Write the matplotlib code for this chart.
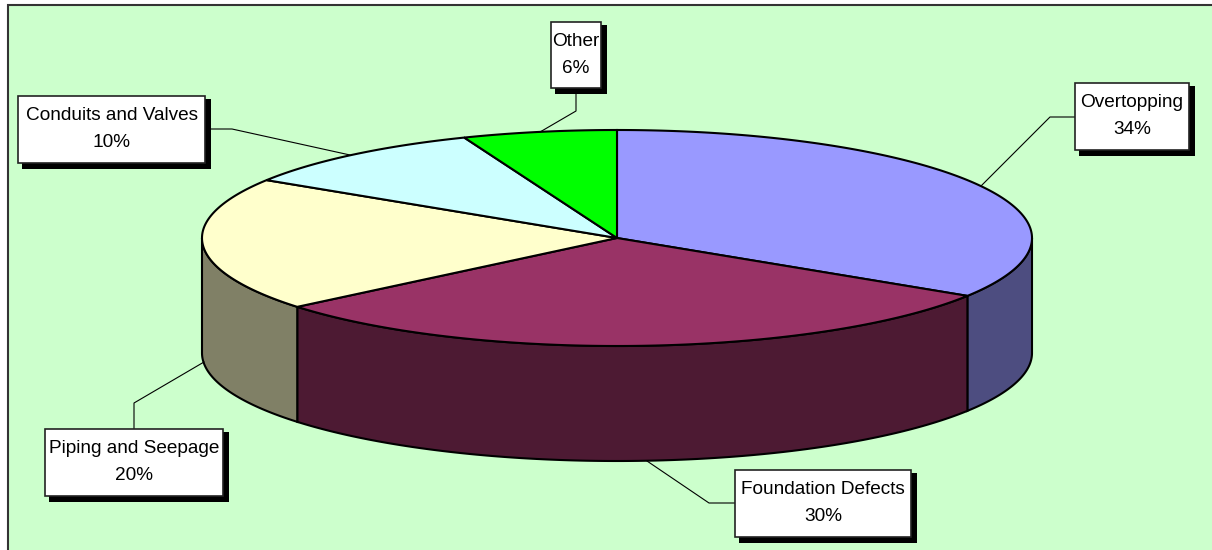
import numpy as np
import matplotlib
matplotlib.use("Agg")
import matplotlib.pyplot as plt
from matplotlib.patches import Polygon, Rectangle

plt.rcParams['font.family'] = ['Liberation Sans', 'DejaVu Sans']

categories = ["Overtopping", "Foundation Defects", "Piping and Seepage", "Conduits and Valves", "Other"]
values = [34, 30, 20, 10, 6]
top_colors = ["#9999FF", "#993366", "#FFFFCC", "#CCFFFF", "#00FF00"]
side_colors = ["#4D4D80", "#4D1A33", "#808066", "#668080", "#008000"]

# label boxes in pixels: left, top, right, bottom
boxes = [(1075, 83, 1189, 150), (735, 470, 911, 537), (45, 429, 223, 496), (18, 96, 205, 163), (551, 22, 601, 88)]
leaders = [
    [(981, 186), (1050, 117), (1075, 117)],
    [(647, 461), (709, 503), (735, 503)],
    [(204, 362), (134, 403), (134, 429)],
    [(350, 155), (232, 129), (205, 129)],
    [(540, 132), (576, 111), (576, 88)],
]

cx, cy = 617, 238
rx, ry = 415, 108
depth = 115

fig = plt.figure(figsize=(12.12, 5.5), dpi=100)
ax = fig.add_axes([0, 0, 1, 1])
ax.set_xlim(0, 1212)
ax.set_ylim(550, 0)
ax.axis("off")

ax.add_patch(Rectangle((7.5, 4.5), 1300, 700, fc="#CCFFCC", ec="#333333", lw=1.5))


def rim(a, b):
    t = np.radians(np.linspace(a, b, max(int(abs(b - a) * 2), 2)))
    return cx + rx * np.sin(t), cy - ry * np.cos(t)


edges = np.cumsum([0] + values) * 3.6

# side walls, only the front half of the rim shows
for i in range(len(values)):
    a, b = max(edges[i], 90), min(edges[i + 1], 270)
    if a >= b:
        continue
    x, y = rim(a, b)
    pts = list(zip(x, y)) + list(zip(x[::-1], y[::-1] + depth))
    ax.add_patch(Polygon(pts, closed=True, fc=side_colors[i], ec="black", lw=1.5, zorder=2))

# top faces
for i in range(len(values)):
    x, y = rim(edges[i], edges[i + 1])
    pts = [(cx, cy)] + list(zip(x, y))
    ax.add_patch(Polygon(pts, closed=True, fc=top_colors[i], ec="black", lw=1.5, zorder=3))

for pts in leaders:
    xs, ys = zip(*pts)
    ax.plot(xs, ys, color="black", lw=0.8, zorder=4)

for name, val, (l, t, r, b) in zip(categories, values, boxes):
    ax.add_patch(Rectangle((l + 4, t + 3), r - l + 2, b - t + 3, fc="black", ec="none", zorder=5))
    ax.add_patch(Rectangle((l, t), r - l, b - t, fc="white", ec="#222222", lw=1.2, zorder=6))
    mid = (l + r) / 2
    ax.text(mid, t + 24, name, ha="center", va="baseline", fontsize=13.7, color="black", zorder=7)
    ax.text(mid, t + 51, f"{val}%", ha="center", va="baseline", fontsize=13.7, color="black", zorder=7)

fig.savefig("out.png", dpi=100)
